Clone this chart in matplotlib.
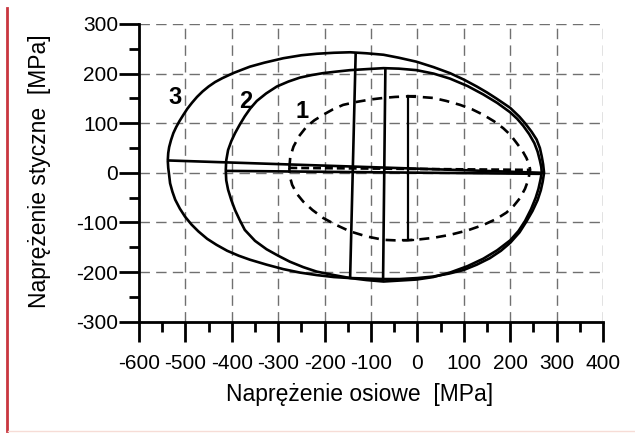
import matplotlib.pyplot as plt
from matplotlib.lines import Line2D
from matplotlib.ticker import MultipleLocator

plt.rcParams['font.family'] = ['Liberation Sans', 'DejaVu Sans']
plt.rcParams['axes.unicode_minus'] = False

# krzywa 3 (zewnetrzna)
e3_up_x = [-538, -537, -535, -531, -526, -520, -513, -505, -496, -486, -475, -463, -450, -436, -420, -397,
           -375, -361, -330, -289, -250, -217, -180, -145, -110, -73, -40, -2, 35, 70, 100, 128, 150, 170,
           200, 220, 232, 246, 257, 264, 268, 271, 273]
e3_up_y = [25, 40, 52, 66, 80, 92, 104, 116, 129, 141, 153, 164, 174, 183, 191, 201,
           209, 214, 222, 231, 237, 240, 242, 243, 241, 238, 232, 224, 213, 201, 188, 174, 162, 150,
           131, 113, 100, 83, 67, 50, 33, 17, 0]
e3_lo_x = [-538, -537, -535, -533, -528, -522, -512, -501, -487, -472, -453, -433, -410, -385, -361, -325,
           -289, -253, -217, -180, -145, -110, -73, -38, 0, 34, 68, 99, 128, 156, 180, 200, 220, 235, 248,
           259, 266, 270, 273]
e3_lo_y = [25, 10, -5, -21, -38, -54, -72, -88, -104, -118, -133, -145, -157, -167, -175, -185,
           -194, -201, -206, -210, -212, -213, -214, -214, -212, -209, -203, -196, -185, -172, -157, -141,
           -120, -98, -77, -55, -35, -18, 0]

# krzywa 2
e2_up_x = [-413, -412, -408, -401, -393, -383, -372, -360, -346, -326, -303, -278, -253, -228, -203, -175,
           -145, -110, -73, -40, -2, 35, 70, 108, 142, 172, 200, 215, 228, 241, 252, 259, 264, 267, 268]
e2_up_y = [5, 25, 46, 64, 80, 97, 114, 130, 145, 160, 174, 184, 192, 197, 201, 204,
           207, 209, 211, 210, 207, 200, 190, 175, 158, 141, 122, 109, 95, 78, 60, 43, 25, 12, 0]
e2_lo_x = [-413, -412, -408, -401, -393, -383, -372, -350, -325, -300, -275, -246, -217, -180, -145, -110,
           -73, -38, -2, 34, 70, 108, 142, 172, 200, 218, 232, 245, 255, 261, 265, 268]
e2_lo_y = [5, -15, -34, -55, -75, -95, -115, -137, -154, -167, -179, -190, -199, -206, -212, -216,
           -219, -217, -215, -210, -201, -188, -173, -156, -136, -117, -97, -73, -50, -32, -15, 0]

# krzywa 1 (przerywana)
e1_up_x = [-276, -274, -267, -255, -239, -222, -203, -182, -160, -131, -100, -73, -48, -23, 5, 34, 62,
           92, 118, 142, 165, 185, 201, 214, 226, 235, 241, 243]
e1_up_y = [10, 32, 53, 74, 93, 106, 117, 128, 137, 143, 148, 151, 153, 154, 153, 151, 145,
           137, 128, 117, 104, 90, 76, 60, 45, 30, 16, 6]
e1_lo_x = [-276, -275, -270, -260, -246, -226, -203, -175, -145, -110, -73, -48, -23, 5, 34, 70, 108,
           142, 170, 192, 208, 221, 232, 239, 243]
e1_lo_y = [10, -7, -24, -42, -58, -75, -91, -105, -118, -128, -135, -136, -136, -134, -131, -125, -116,
           -105, -93, -80, -66, -51, -32, -14, 6]

# odcinki (poziome i pionowe)
h3_x, h3_y = [-538, 273], [25, 0]
h2_x, h2_y = [-413, 268], [4, -2]
h1_x, h1_y = [-276, 243], [10, 6]
v3_x, v3_y = [-133, -145], [243, -212]
v2_x, v2_y = [-69, -74], [211, -219]
v1_x, v1_y = [-20, -20], [154, -136]

labels = ['3', '2', '1']
label_x = [-522, -370, -248]
label_y = [151, 144, 124]

xticks = list(range(-600, 401, 100))
yticks = list(range(-300, 301, 100))


def closed(ux, uy, lx, ly):
    return ux + lx[::-1], uy + ly[::-1]


fig = plt.figure(figsize=(6.35, 4.37), dpi=100)
ax = fig.add_axes([0.2189, 0.2638, 0.7307, 0.6813])

ax.grid(True, which='major', color='#707070', lw=1.0, linestyle=(0, (7.5, 4.5)), zorder=0)
ax.set_axisbelow(True)

kw = dict(color='black', lw=1.9, solid_joinstyle='round', solid_capstyle='butt', zorder=3)
x, y = closed(e3_up_x, e3_up_y, e3_lo_x, e3_lo_y)
ax.plot(x, y, **kw)
x, y = closed(e2_up_x, e2_up_y, e2_lo_x, e2_lo_y)
ax.plot(x, y, **kw)
x, y = closed(e1_up_x, e1_up_y, e1_lo_x, e1_lo_y)
ax.plot(x, y, color='black', lw=1.9, linestyle=(0, (3.8, 2.6)), zorder=3)

ax.plot(h3_x, h3_y, **kw)
ax.plot(h2_x, h2_y, **kw)
ax.plot(h1_x, h1_y, color='black', lw=1.9, linestyle=(0, (3.0, 1.5)), zorder=3)
ax.plot(v3_x, v3_y, **kw)
ax.plot(v2_x, v2_y, **kw)
ax.plot(v1_x, v1_y, color='black', lw=1.6, zorder=3)
ax.plot([v1_x[0], v1_x[0] + 14], [v1_y[0], v1_y[0]], color='black', lw=1.6, zorder=3)
ax.plot([v1_x[1] - 12, v1_x[1] + 10], [v1_y[1], v1_y[1]], color='black', lw=1.6, zorder=3)

for t, lx, ly in zip(labels, label_x, label_y):
    ax.text(lx, ly, t, fontsize=17, fontweight='bold', ha='center', va='center', zorder=4)

ax.set_xlim(-600, 400)
ax.set_ylim(-300, 300)
ax.set_xticks(xticks)
ax.set_yticks(yticks)
ax.xaxis.set_minor_locator(MultipleLocator(50))
ax.yaxis.set_minor_locator(MultipleLocator(50))

for s in ['top', 'right']:
    ax.spines[s].set_visible(False)
for s in ['left', 'bottom']:
    ax.spines[s].set_linewidth(2.0)

ax.tick_params(axis='both', which='major', length=14.5, width=2.0, labelsize=15)
ax.tick_params(axis='both', which='minor', length=7.5, width=2.0)
ax.tick_params(axis='x', which='major', pad=9)
ax.tick_params(axis='y', which='major', pad=0.5)

ax.set_xlabel('Naprężenie osiowe  [MPa]', fontsize=16.5, va='center')
ax.xaxis.set_label_coords(0.476, -0.246)
ax.set_ylabel('Naprężenie styczne  [MPa]', fontsize=16.5, va='center')
ax.yaxis.set_label_coords(-0.2155, 0.506)

# czerwona linia po lewej i jasna ramka u dołu
fig.add_artist(Line2D([7 / 635, 7 / 635], [1 - 8 / 437, 1 - 431 / 437], color='#c9363f', lw=2.0))
fig.add_artist(Line2D([8 / 635, 1.0], [1 - 431 / 437, 1 - 431 / 437], color='#f6dcd6', lw=1.0))

fig.savefig('out.png', dpi=100)
